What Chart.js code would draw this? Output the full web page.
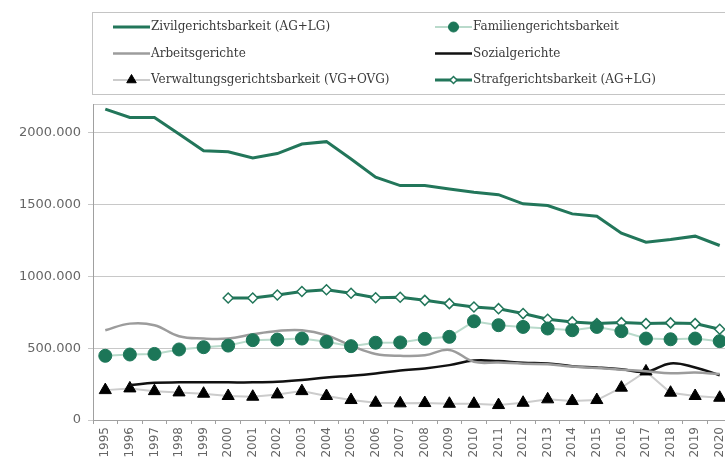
<!DOCTYPE html>
<html>
<head>
<meta charset="utf-8">
<script src="https://cdn.jsdelivr.net/npm/chart.js@4.4.1/dist/chart.umd.min.js"></script>
<style>
  html, body { margin: 0; padding: 0; background: #fff; overflow: hidden; }
  #wrap { position: relative; width: 740px; height: 465px; }
</style>
</head>
<body>
<div id="wrap"><canvas id="chart"></canvas></div>
<script>
// categories
const years = ['1995', '1996', '1997', '1998', '1999', '2000', '2001', '2002', '2003', '2004', '2005', '2006', '2007',
  '2008', '2009', '2010', '2011', '2012', '2013', '2014', '2015', '2016', '2017', '2018', '2019', '2020'];

// series
const zivil = [2164000, 2106000, 2106000, 1991000, 1875000, 1868000, 1824000, 1855000, 1921000, 1938000, 1817000, 1690000, 1632000,
  1632000, 1609000, 1586000, 1569000, 1505000, 1493000, 1435000, 1419000, 1301000, 1238000, 1257000, 1280000, 1215000];
const familien = [447000, 456000, 460000, 491000, 507000, 518000, 556000, 560000, 567000, 544000, 514000, 538000, 540000,
  565000, 579000, 687000, 660000, 648000, 637000, 625000, 648000, 618000, 567000, 562000, 567000, 549000];
const arbeit = [625000, 671000, 660000, 583000, 567000, 567000, 597000, 620000, 625000, 590000, 518000, 460000, 447000,
  451000, 488000, 405000, 400000, 392000, 388000, 372000, 362000, 350000, 340000, 325000, 330000, 320000];
const sozial = [null, 243000, 259000, 262000, 262000, 262000, 262000, 266000, 278000, 296000, 308000, 324000, 345000,
  359000, 382000, 414000, 410000, 398000, 394000, 375000, 366000, 354000, 335000, 394000, 366000, 312000];
const verwaltung = [208000, 220000, 201000, 192000, 183000, 167000, 162000, 178000, 201000, 167000, 139000, 120000, 116000,
  118000, 113000, 113000, 104000, 120000, 144000, 132000, 139000, 225000, 338000, 190000, 167000, 155000];
const straf = [null, null, null, null, null, 849000, 849000, 870000, 895000, 907000, 882000, 851000, 855000,
  833000, 810000, 787000, 775000, 741000, 701000, 683000, 671000, 678000, 671000, 676000, 671000, 632000];

// y ticks (top value only closes the plot frame)
const yTicks = [0, 500000, 1000000, 1500000, 2000000, 2200000];

const green = '#22765a';

function fmt(v) {
  if (v === 0) return '0';
  if (v > 2000000) return '';
  return Math.floor(v / 1000) + '.' + String(v % 1000).padStart(3, '0');
}

// two-column legend inside a framed box above the plot
const legendBox = {
  id: 'legendBox',
  afterDraw(chart) {
    const ctx = chart.ctx;
    ctx.save();
    ctx.strokeStyle = '#c4c4c4';
    ctx.lineWidth = 1;
    ctx.strokeRect(92.5, 12.5, 700, 82);
    chart.data.datasets.forEach((ds, i) => {
      const col = i % 2, row = Math.floor(i / 2);
      const x0 = col ? 435 : 113;
      const y = 27 + row * 26.5;
      ctx.strokeStyle = ds.borderColor;
      ctx.lineWidth = ds.borderWidth;
      ctx.beginPath();
      ctx.moveTo(x0, y);
      ctx.lineTo(x0 + 37, y);
      ctx.stroke();
      if (ds.pointRadius > 0) {
        ctx.fillStyle = ds.pointBackgroundColor;
        ctx.strokeStyle = ds.pointBorderColor;
        ctx.lineWidth = ds.pointBorderWidth;
        Chart.helpers.drawPoint(ctx, {
          pointStyle: ds.pointStyle, rotation: 0,
          radius: ds.legendRadius, borderWidth: ds.pointBorderWidth
        }, x0 + 18.5, y);
      }
      ctx.fillStyle = '#3a3a3a';
      ctx.font = '12px "DejaVu Serif"';
      ctx.textBaseline = 'middle';
      ctx.textAlign = 'left';
      ctx.fillText(ds.label, x0 + 38, y);
    });
    ctx.restore();
  }
};

new Chart(document.getElementById('chart'), {
  type: 'line',
  data: {
    labels: years,
    datasets: [
      {
        label: 'Zivilgerichtsbarkeit (AG+LG)',
        data: zivil,
        borderColor: green,
        borderWidth: 3,
        pointRadius: 0,
        tension: 0
      },
      {
        label: 'Familiengerichtsbarkeit',
        data: familien,
        borderColor: '#b9dacb',
        borderWidth: 2,
        pointStyle: 'circle',
        pointRadius: 6.5,
        pointBackgroundColor: '#1c7658',
        pointBorderColor: '#1c7658',
        pointBorderWidth: 1,
        legendRadius: 5,
        tension: 0
      },
      {
        label: 'Arbeitsgerichte',
        data: arbeit,
        borderColor: '#9c9c9c',
        borderWidth: 2.5,
        pointRadius: 0,
        tension: 0.4
      },
      {
        label: 'Sozialgerichte',
        data: sozial,
        borderColor: '#111111',
        borderWidth: 2.5,
        pointRadius: 0,
        tension: 0.4
      },
      {
        label: 'Verwaltungsgerichtsbarkeit (VG+OVG)',
        data: verwaltung,
        borderColor: '#cccccc',
        borderWidth: 2,
        pointStyle: 'triangle',
        pointRadius: 7,
        pointBackgroundColor: '#000000',
        pointBorderColor: '#000000',
        pointBorderWidth: 1,
        legendRadius: 5.5,
        tension: 0
      },
      {
        label: 'Strafgerichtsbarkeit (AG+LG)',
        data: straf,
        borderColor: green,
        borderWidth: 3,
        pointStyle: 'rectRot',
        pointRadius: 5,
        pointBackgroundColor: '#ffffff',
        pointBorderColor: green,
        pointBorderWidth: 1.5,
        legendRadius: 3.5,
        tension: 0
      }
    ]
  },
  options: {
    responsive: true,
    maintainAspectRatio: false,
    animation: false,
    layout: { padding: { top: 104, right: 6, left: 0, bottom: 0 } },
    plugins: {
      legend: { display: false },
      tooltip: { enabled: false }
    },
    scales: {
      x: {
        offset: true,
        ticks: {
          minRotation: 90,
          maxRotation: 90,
          autoSkip: false,
          padding: 3,
          color: '#666',
          font: { family: 'DejaVu Sans', size: 12 }
        },
        grid: { display: true, drawOnChartArea: false, offset: true, tickLength: 4, color: '#a0a0a0' },
        border: { color: '#a0a0a0' },
        afterFit: s => { s.height = 45; }
      },
      y: {
        min: 0,
        max: 2200000,
        afterBuildTicks: s => { s.ticks = yTicks.map(v => ({ value: v })); },
        ticks: {
          padding: 7,
          color: '#666',
          font: { family: 'DejaVu Sans', size: 13 },
          callback: v => fmt(v)
        },
        grid: {
          color: '#c8c8c8',
          tickLength: 5,
          tickColor: c => (c.tick && c.tick.value > 2000000) ? 'rgba(0,0,0,0)' : '#c8c8c8'
        },
        border: { color: '#a0a0a0' },
        afterFit: s => { s.width = 93; }
      }
    }
  },
  plugins: [legendBox]
});
</script>
</body>
</html>
